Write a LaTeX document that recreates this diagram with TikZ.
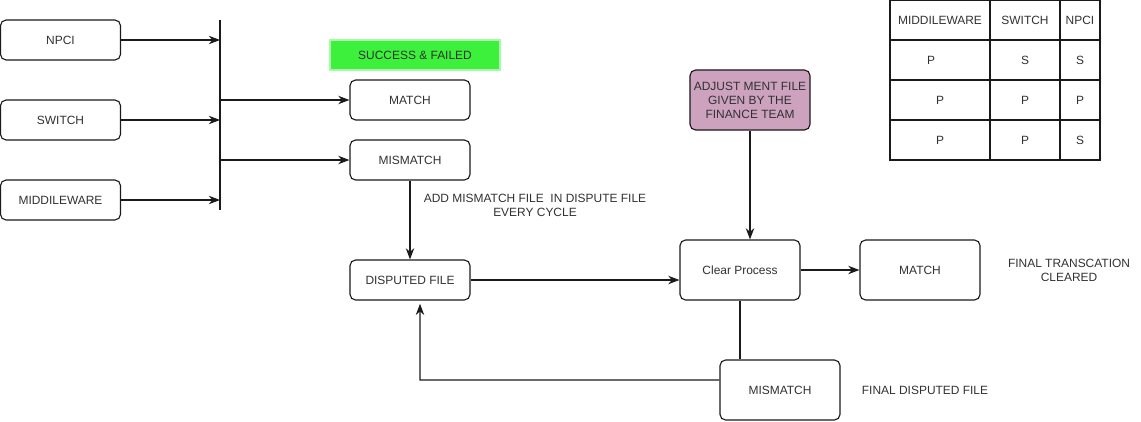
\documentclass[tikz,border=0pt]{standalone}
\usepackage{fontspec}
\setmainfont{Liberation Sans}
\usetikzlibrary{positioning, arrows.meta}
\definecolor{ink}{HTML}{1A1A1A}
\definecolor{okgreen}{HTML}{3CF03C}
\definecolor{finmauve}{HTML}{CDA2BE}
\tikzset{
  box/.style  = {rectangle, rounded corners=4pt, draw=ink, line width=0.8pt,
                 fill=white, minimum width=3cm, minimum height=1cm,
                 align=center, font=\fontsize{8.5}{10}\selectfont, text=ink!90,
                 inner sep=1pt},
  note/.style = {align=center, font=\fontsize{8.5}{10}\selectfont, text=ink!90,
                 inner sep=1pt},
  ar/.style   = {-{Stealth[length=2.8mm,width=2.1mm,inset=0.9mm]}, line width=0.8pt, draw=ink},
  ln/.style   = {line width=0.8pt, draw=ink},
}
\begin{document}
\begin{tikzpicture}[
    x=0.025cm, y=-0.025cm,
    okbox/.style={rectangle, fill=okgreen, draw=okgreen!45, line width=1pt,
                  minimum width=4.25cm, minimum height=0.75cm,
                  font=\fontsize{8.5}{10}\selectfont, text=ink!90},
    cell/.style={font=\fontsize{8.5}{10}\selectfont, text=ink!90, inner sep=1pt},
  ]
  \useasboundingbox (0,0) rectangle (1141,421);

  % sources
  \node[box] (npci) at (60.5,40) {NPCI};
  \node[box] (switch) at (60.5,120) {SWITCH};
  \node[box] (mw) at (60.5,200) {MIDDILEWARE};
  \coordinate (bartop) at (220,20);
  \coordinate (barbot) at (220,210);
  \draw[ln] (bartop) -- (barbot);
  \draw[ar] (npci) -- (npci -| bartop);
  \draw[ar] (switch) -- (switch -| bartop);
  \draw[ar] (mw) -- (mw -| bartop);

  % first split
  \node[okbox] (sf) at (415,55) {SUCCESS \& FAILED};
  \node[box] (match) at (410,100) {MATCH};
  \node[box] (mismatch) at (410,160) {MISMATCH};
  \draw[ar] (match.west -| bartop) -- (match);
  \draw[ar] (mismatch.west -| bartop) -- (mismatch);

  \node[box] (disp) at (410,280) {DISPUTED FILE};
  \draw[ar] (mismatch) -- (disp);
  \node[note] (addnote) at (535,205) {ADD MISMATCH FILE\ \ IN DISPUTE FILE\\EVERY CYCLE};

  % clearing
  \node[box, minimum height=1.5cm] (clear) at (740,270) {Clear Process};
  \node[box, fill=finmauve, minimum height=1.5cm] (adj) at (750,100)
       {ADJUST MENT FILE\\GIVEN BY THE\\FINANCE TEAM};
  \draw[ar] (adj.south) -- (adj.south |- clear.north);
  \draw[ar] (disp.east) -- (disp.east -| clear.west);

  \node[box, minimum height=1.5cm] (fmatch) at (920,270) {MATCH};
  \draw[ar] (clear) -- (fmatch);
  \node[note] (cleared) at (1069,270) {FINAL TRANSCATION\\CLEARED};

  \node[box, minimum height=1.5cm] (fmis) at (780,390) {MISMATCH};
  \draw[ln] (clear.south) -- (clear.south |- fmis.north);
  \coordinate (loop) at (420,380);
  \draw[ar, shorten >=0.08cm] ([yshift=0.25cm]fmis.west) -- (loop) -- (loop |- disp.south);
  \node[note] (fdisp) at (925,390) {FINAL DISPUTED FILE};

  % status table
  \draw[ln] (890,0.5) rectangle (1100,160);
  \foreach \y in {40,80,120} \draw[ln] (890,\y) -- (1100,\y);
  \foreach \x in {990,1060} \draw[ln] (\x,0.5) -- (\x,160);
  \foreach \r/\ax/\a/\b/\c [count=\i] in {20/940/MIDDILEWARE/SWITCH/NPCI, 60/931/P/S/S, 100/940/P/P/P, 140/940/P/P/S} {
    \node[cell] (t\i a) at (\ax,\r) {\a};
    \node[cell] (t\i b) at (1025,\r) {\b};
    \node[cell] (t\i c) at (1080,\r) {\c};
  }
\end{tikzpicture}
\end{document}
